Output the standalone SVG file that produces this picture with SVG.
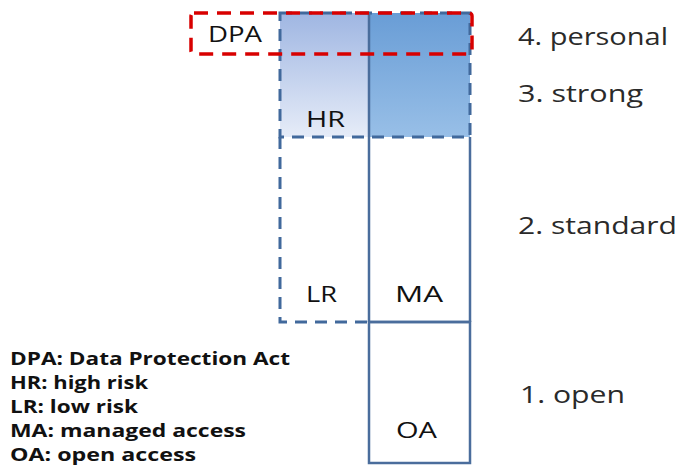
<svg xmlns="http://www.w3.org/2000/svg" width="683" height="470" viewBox="0 0 683 470">
  <defs>
    <linearGradient id="gradHR" x1="0" y1="0" x2="0" y2="1">
      <stop offset="0" stop-color="#9fb6e2"/>
      <stop offset="1" stop-color="#e6ecf8"/>
    </linearGradient>
    <linearGradient id="gradMA" x1="0" y1="0" x2="0" y2="1">
      <stop offset="0" stop-color="#699dd6"/>
      <stop offset="1" stop-color="#98bfe7"/>
    </linearGradient>
  </defs>
  <style>
    .dash { fill: none; stroke: #41699c; stroke-width: 3; stroke-dasharray: 12 8; }
    .solid { fill: none; stroke: #4a6d9c; stroke-width: 2.5; }
    .red { fill: none; stroke: #d80000; stroke-width: 3.5; stroke-dasharray: 14 9; }
    .lbl { font-family: "Open Sans", "Liberation Sans", sans-serif; font-size: 21px; fill: #111; }
    .lvl { font-family: "Open Sans", "Liberation Sans", sans-serif; font-size: 23px; fill: #2a2a2a; }
    .leg { font-family: "Open Sans", "Liberation Sans", sans-serif; font-size: 17px; font-weight: bold; fill: #111; }
  </style>

  <!-- shaded high-risk zone -->
  <g id="HR">
    <rect x="280" y="13" width="89" height="124" fill="url(#gradHR)"/>
    <rect x="369" y="13" width="101" height="124" fill="url(#gradMA)"/>
    <rect class="dash" x="280" y="13" width="190" height="124"/>
    <text class="lbl" x="306" y="127" textLength="39" lengthAdjust="spacingAndGlyphs">HR</text>
  </g>

  <!-- low-risk column -->
  <g id="LR">
    <path class="dash" d="M280 137 V322 H369"/>
    <text class="lbl" x="306" y="302" textLength="31" lengthAdjust="spacingAndGlyphs">LR</text>
  </g>

  <!-- managed access column -->
  <g id="MA">
    <path class="solid" d="M369 13 V322 M470 137 V322 M369 322 H470"/>
    <text class="lbl" x="395" y="302" textLength="48" lengthAdjust="spacingAndGlyphs">MA</text>
  </g>

  <!-- open access box -->
  <g id="OA">
    <rect class="solid" x="369" y="322" width="101" height="141"/>
    <text class="lbl" x="396" y="438" textLength="41" lengthAdjust="spacingAndGlyphs">OA</text>
  </g>

  <!-- Data Protection Act band -->
  <g id="DPA">
    <rect class="red" x="191" y="13" width="281" height="41" rx="3"/>
    <text class="lbl" x="208" y="42" textLength="54" lengthAdjust="spacingAndGlyphs">DPA</text>
  </g>

  <!-- level names -->
  <g id="levels">
    <text class="lvl" x="518" y="45" textLength="150" lengthAdjust="spacingAndGlyphs">4. personal</text>
    <text class="lvl" x="518" y="102" textLength="125" lengthAdjust="spacingAndGlyphs">3. strong</text>
    <text class="lvl" x="518" y="234" textLength="159" lengthAdjust="spacingAndGlyphs">2. standard</text>
    <text class="lvl" x="520" y="403" textLength="105" lengthAdjust="spacingAndGlyphs">1. open</text>
  </g>

  <!-- abbreviations -->
  <g id="legend">
    <text class="leg" x="10" y="365" textLength="280" lengthAdjust="spacingAndGlyphs">DPA: Data Protection Act</text>
    <text class="leg" x="10" y="389" textLength="138" lengthAdjust="spacingAndGlyphs">HR: high risk</text>
    <text class="leg" x="10" y="413" textLength="128" lengthAdjust="spacingAndGlyphs">LR: low risk</text>
    <text class="leg" x="10" y="437" textLength="236" lengthAdjust="spacingAndGlyphs">MA: managed access</text>
    <text class="leg" x="10" y="461" textLength="186" lengthAdjust="spacingAndGlyphs">OA: open access</text>
  </g>
</svg>
